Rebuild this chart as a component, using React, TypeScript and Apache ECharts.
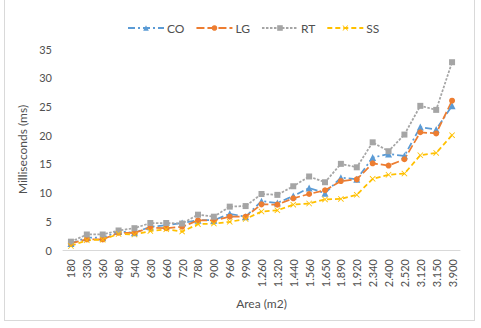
import React, { useEffect, useRef } from "react";
import * as echarts from "echarts";

const categories = ["180", "330", "360", "480", "540", "630", "660", "720", "780", "900", "960", "990", "1.260", "1.320", "1.440", "1.560", "1.650", "1.890", "1.920", "2.340", "2.400", "2.520", "3.120", "3.150", "3.900"];
const coValues = [1.15, 2.15, 2.15, 3.25, 3.0, 4.05, 4.3, 4.7, 5.2, 5.2, 6.3, 5.8, 8.5, 8.2, 9.4, 10.8, 9.9, 12.6, 12.3, 16.1, 16.7, 16.4, 21.4, 21.0, 25.1];
const lgValues = [1.15, 1.85, 1.85, 3.0, 3.0, 3.9, 3.8, 4.05, 5.15, 5.15, 5.8, 5.8, 7.95, 7.9, 9.0, 9.75, 10.4, 12.0, 12.3, 15.1, 14.7, 15.8, 20.5, 20.3, 26.0];
const rtValues = [1.45, 2.7, 2.7, 3.4, 3.8, 4.7, 4.7, 4.6, 6.15, 5.8, 7.55, 7.65, 9.75, 9.6, 11.1, 12.8, 11.8, 15.0, 14.4, 18.75, 17.2, 20.1, 25.1, 24.4, 32.7];
const ssValues = [0.7, 1.7, 1.8, 2.8, 2.7, 3.3, 3.6, 3.2, 4.5, 4.6, 4.9, 5.4, 6.7, 6.9, 7.9, 8.1, 8.8, 8.9, 9.6, 12.4, 13.1, 13.3, 16.5, 16.9, 20.0];
const yTicks = { min: 0, max: 35, interval: 5 };

const FONT = "Lato";
const TEXT = "#505050";
const xSymbol = "path://M0,1L1,0L5,4L9,0L10,1L6,5L10,9L9,10L5,6L1,10L0,9L4,5Z";

export default function App() {
  const ref = useRef<HTMLDivElement>(null);
  useEffect(() => {
    if (!ref.current) return;
    const chart = echarts.init(ref.current, undefined, { renderer: "svg" });
    const mk = (name: string, data: number[], color: string, dash: any, symbol: string, size: number) => ({
      name,
      type: "line",
      data,
      symbol,
      symbolSize: size,
      showSymbol: true,
      lineStyle: { color, width: 1.75, type: dash },
      itemStyle: { color, borderWidth: 0 },
      emphasis: { disabled: true },
    });
    chart.setOption({
      animation: false,
      textStyle: { fontFamily: FONT },
      legend: {
        top: 17,
        left: 122,
        itemWidth: 36,
        itemHeight: 7,
        itemGap: 11,
        textStyle: { fontFamily: FONT, fontSize: 12, color: TEXT, padding: [0, 0, 0, -2] },
        data: ["CO", "LG", "RT", "SS"],
      },
      grid: { left: 63, right: 21, top: 49, bottom: 78, containLabel: false },
      xAxis: {
        type: "category",
        data: categories,
        boundaryGap: true,
        name: "Area (m2)",
        nameLocation: "middle",
        nameGap: 47,
        nameTextStyle: { fontFamily: FONT, fontSize: 12, color: TEXT },
        axisLine: { lineStyle: { color: "#d9d9d9", width: 1 } },
        axisTick: { show: false },
        axisLabel: { rotate: 90, interval: 0, margin: 9, fontFamily: FONT, fontSize: 11, color: TEXT },
        splitLine: { show: false },
      },
      yAxis: {
        type: "value",
        min: yTicks.min,
        max: yTicks.max,
        interval: yTicks.interval,
        name: "Milliseconds (ms)",
        nameLocation: "middle",
        nameGap: 33,
        nameTextStyle: { fontFamily: FONT, fontSize: 12, color: TEXT },
        axisLine: { show: false },
        axisTick: { show: false },
        axisLabel: { margin: 11, fontFamily: FONT, fontSize: 11, color: TEXT },
        splitLine: { show: false },
      },
      series: [
        mk("CO", coValues, "#5B9BD5", [7, 3, 2, 3], "triangle", 7),
        mk("LG", lgValues, "#ED7D31", [8, 3], "circle", 6),
        mk("RT", rtValues, "#A5A5A5", [2.5, 1.5], "rect", 6),
        mk("SS", ssValues, "#FFC000", [5, 3], xSymbol, 6),
      ],
    });
    return () => chart.dispose();
  }, []);
  return (
    <div style={{ position: "fixed", left: 0, top: 0, width: 481, height: 328, overflow: "hidden", background: "#fff" }}>
      <div style={{ position: "absolute", left: 4, top: -2, width: 469, height: 321, border: "1px solid #d9d9d9" }} />
      <div ref={ref} style={{ position: "absolute", left: 0, top: 0, width: 481, height: 328 }} />
    </div>
  );
}
